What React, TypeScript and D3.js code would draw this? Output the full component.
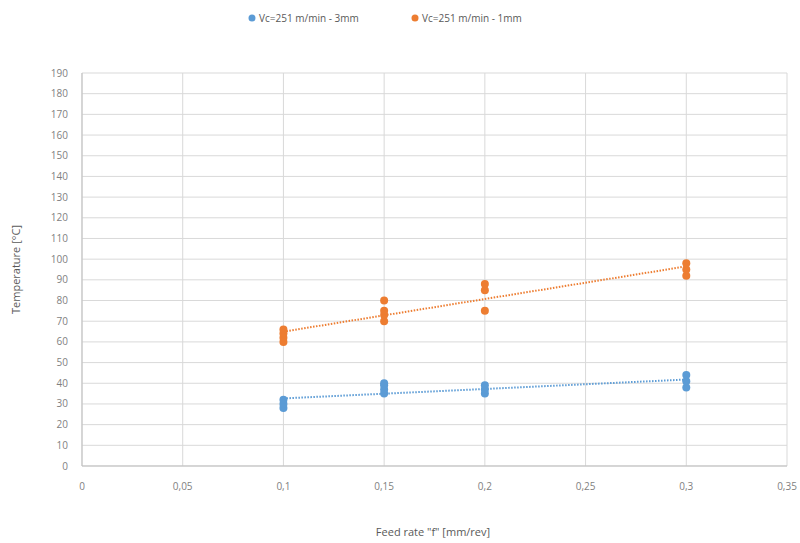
import React from "react";
import * as d3 from "d3";

const xTicks = [0, 0.05, 0.1, 0.15, 0.2, 0.25, 0.3, 0.35];
const yTicks = d3.range(0, 191, 10);

const feed3mm = [0.1, 0.1, 0.1, 0.15, 0.15, 0.15, 0.15, 0.2, 0.2, 0.2, 0.3, 0.3, 0.3];
const temp3mm = [28, 30, 32, 35, 37, 39, 40, 35, 37, 39, 38, 41, 44];

const feed1mm = [0.1, 0.1, 0.1, 0.1, 0.15, 0.15, 0.15, 0.15, 0.2, 0.2, 0.2, 0.3, 0.3, 0.3];
const temp1mm = [60, 62, 64, 66, 70, 73, 75, 80, 75, 85, 88, 92, 95, 98];

const series = [
  { name: "Vc=251 m/min - 3mm", color: "#5B9BD5", xs: feed3mm, ys: temp3mm },
  { name: "Vc=251 m/min - 1mm", color: "#ED7D31", xs: feed1mm, ys: temp1mm },
];

// least squares trendline, like Excel's linear trendline
const fit = (xs: number[], ys: number[]) => {
  const mx = d3.mean(xs)!;
  const my = d3.mean(ys)!;
  const sxy = d3.sum(xs, (x, i) => (x - mx) * (ys[i] - my));
  const sxx = d3.sum(xs, (x) => (x - mx) ** 2);
  const b = sxy / sxx;
  return { a: my - b * mx, b };
};

const fmt = (v: number) => String(+v.toFixed(2)).replace(".", ",");

const App = () => {
  const width = 800;
  const height = 543;
  const m = { left: 82, right: 13, top: 73, bottom: 77 };
  const x = d3.scaleLinear().domain([0, 0.35]).range([m.left, width - m.right]);
  const y = d3.scaleLinear().domain([0, 190]).range([height - m.bottom, m.top]);
  const font = "'Open Sans', 'Liberation Sans', sans-serif";
  const grid = "#d9d9d9";
  const text = "#7f7f7f";

  return (
    <svg width={width} height={height} style={{ position: "absolute", left: 0, top: 0, fontFamily: font }}>
      <rect width={width} height={height} fill="white" />
      {yTicks.map((t) => (
        <g key={"y" + t}>
          <line x1={x(0)} x2={x(0.35)} y1={y(t)} y2={y(t)} stroke={grid} strokeWidth={1} />
          <text x={x(0) - 14} y={y(t)} dy="0.35em" textAnchor="end" fontSize={10} fill={text}>
            {t}
          </text>
        </g>
      ))}
      {xTicks.map((t) => (
        <g key={"x" + t}>
          <line x1={x(t)} x2={x(t)} y1={y(0)} y2={y(190)} stroke={grid} strokeWidth={1} />
          <text x={x(t)} y={y(0) + 24} textAnchor="middle" fontSize={10} fill={text}>
            {fmt(t)}
          </text>
        </g>
      ))}
      <line x1={x(0)} x2={x(0.35)} y1={y(0)} y2={y(0)} stroke="#bfbfbf" />
      <line x1={x(0)} x2={x(0)} y1={y(0)} y2={y(190)} stroke="#bfbfbf" />

      {series.map((s) => {
        const { a, b } = fit(s.xs, s.ys);
        const x0 = d3.min(s.xs)!;
        const x1 = d3.max(s.xs)!;
        return (
          <g key={s.name}>
            <line
              x1={x(x0)}
              y1={y(a + b * x0)}
              x2={x(x1)}
              y2={y(a + b * x1)}
              stroke={s.color}
              strokeWidth={2}
              strokeDasharray="1.5 1.5"
            />
            {s.xs.map((v, i) => (
              <circle key={i} cx={x(v)} cy={y(s.ys[i])} r={4} fill={s.color} />
            ))}
          </g>
        );
      })}

      {series.map((s, i) => {
        const lx = i === 0 ? 252 : 415;
        return (
          <g key={"l" + s.name}>
            <circle cx={lx} cy={18} r={3.5} fill={s.color} />
            <text x={lx + 7} y={18} dy="0.35em" fontSize={10} fill="#595959">
              {s.name}
            </text>
          </g>
        );
      })}

      <text
        transform={`translate(20,${(y(0) + y(190)) / 2}) rotate(-90)`}
        textAnchor="middle"
        fontSize={11}
        fill="#595959"
      >
        Temperature [°C]
      </text>
      <text x={433} y={536} textAnchor="middle" fontSize={11} fill="#595959">
        Feed rate "f" [mm/rev]
      </text>
    </svg>
  );
};

export default App;
